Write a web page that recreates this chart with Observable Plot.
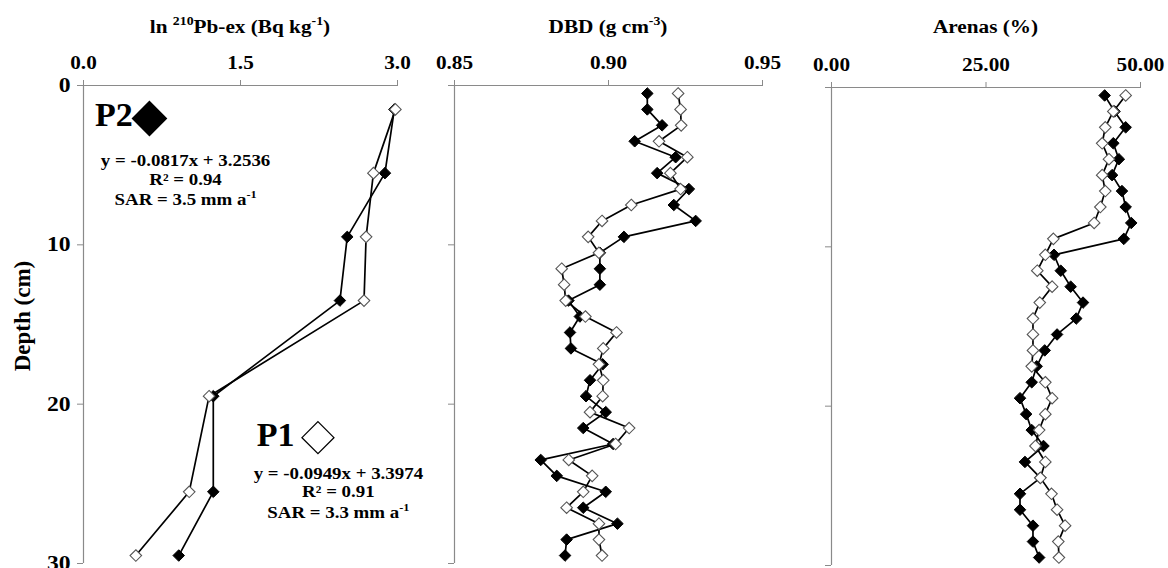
<!DOCTYPE html>
<html><head><meta charset="utf-8">
<script src="https://cdn.jsdelivr.net/npm/d3@7"></script>
<script src="https://cdn.jsdelivr.net/npm/@observablehq/plot@0.6"></script>
<style>
body{margin:0;background:#fff;}
#wrap{position:relative;width:1168px;height:568px;overflow:hidden;background:#fff;}
#wrap svg{position:absolute;top:0;overflow:visible;}
</style></head><body><div id="wrap"></div>
<script>
// ---- data ----
const depthPb = [1.5, 5.5, 9.5, 13.5, 19.5, 25.5, 29.5];
const pbP1 = [2.98, 2.77, 2.70, 2.68, 1.20, 1.01, 0.50];
const pbP2 = [2.97, 2.88, 2.52, 2.45, 1.24, 1.24, 0.91];

const depthFine = [0.5,1.5,2.5,3.5,4.5,5.5,6.5,7.5,8.5,9.5,10.5,11.5,12.5,13.5,14.5,15.5,16.5,17.5,18.5,19.5,20.5,21.5,22.5,23.5,24.5,25.5,26.5,27.5,28.5,29.5];
const dbdP1 = [0.9226,0.9234,0.9236,0.9164,0.9256,0.9201,0.9234,0.9074,0.8979,0.8934,0.8969,0.8848,0.8856,0.8861,0.8925,0.9026,0.8983,0.8969,0.8983,0.8981,0.8940,0.9067,0.9023,0.8871,0.8947,0.8918,0.8864,0.8969,0.8969,0.8979];
const dbdP2 = [0.9126,0.9126,0.9174,0.9085,0.9218,0.9158,0.9261,0.9212,0.9283,0.9050,0.8972,0.8972,0.8972,0.8870,0.8907,0.8875,0.8878,0.8981,0.8940,0.8927,0.8991,0.8918,0.9015,0.8780,0.8832,0.8991,0.8918,0.9029,0.8864,0.8859];
const arP1 = [47.6,45.6,44.3,43.8,44.9,43.8,44.3,43.5,42.5,35.9,34.6,33.3,35.7,33.7,32.6,32.6,32.6,32.4,34.6,35.7,34.6,33.6,33.0,34.6,33.8,35.6,36.5,37.8,36.7,36.8];
const arP2 = [44.2,45.8,47.6,45.6,46.5,45.4,47.0,47.6,48.5,47.3,36.0,37.1,38.7,40.7,39.6,36.5,34.5,33.2,32.4,30.5,31.5,32.4,34.3,31.3,33.8,30.5,30.5,32.6,32.6,33.6];

const pbTicks = [0, 1.5, 3.0];
const dbdTicks = [0.85, 0.90, 0.95];
const arTicks = [0, 25, 50];
const depthTicks = [0, 10, 20, 30];

const titlePb = [["ln ", false], ["210", true], ["Pb-ex (Bq kg", false], ["-1", true], [")", false]];
const titleDbd = [["DBD (g cm", false], ["-3", true], [")", false]];
const titleAr = [["Arenas (%)", false]];
const yTitle = "Depth (cm)";

const p2Eq = [[["y = -0.0817x + 3.2536", false]], [["R² = 0.94", false]], [["SAR = 3.5 mm a", false], ["-1", true]]];
const p1Eq = [[["y = -0.0949x + 3.3974", false]], [["R² = 0.91", false]], [["SAR = 3.3 mm a", false], ["-1", true]]];
const p2EqPos = {x: 0.98, depths: [5.08, 6.28, 7.53]};
const p1EqPos = {x: 2.44, depths: [24.73, 25.86, 27.18]};
const profileLabels = [{text: "P2", x: 0.115, depth: 2.57}, {text: "P1", x: 1.66, depth: 22.66}];
const profileMarkers = [{x: 0.63, depth: 2.07, fill: "black", r: 15.3}, {x: 2.24, depth: 22.1, fill: "white", r: 14.4}];

// ---- helpers ----
const FONT = "'Liberation Serif', 'Times New Roman', serif";
const GRAY = "#8a8a8a";
const STRETCH = 1.18;
const wrap = document.getElementById("wrap");

function rows(xs, ys) { return xs.map((v, i) => ({v, d: ys[i]})); }

function richText(svg, segs, px, py, size, anchor, stretch = true) {
  const t = d3.select(svg).append("text")
    .attr("x", px).attr("y", py)
    .attr("text-anchor", anchor)
    .attr("font-size", size).attr("font-weight", "bold")
    .attr("font-family", FONT).attr("fill", "black")
    .attr("class", stretch ? "stretch" : "");
  let sup = false;
  segs.forEach(([s, isSup]) => {
    const ts = t.append("tspan").text(s);
    if (isSup) ts.attr("font-size", size * 0.65);
    if (isSup && !sup) ts.attr("dy", -0.42 * size);
    if (!isSup && sup) ts.attr("dy", 0.42 * size);
    sup = isSup;
  });
  return t;
}

function panel(cfg) {
  const {left, width, mL, mR, mT, mB, domain, ticks, fmt, p1, p2, depths, showY, title, extra} = cfg;
  const d1 = rows(p1, depths), d2 = rows(p2, depths);
  const plot = Plot.plot({
    width, height: 568,
    marginLeft: mL, marginRight: mR, marginTop: mT, marginBottom: mB,
    style: {background: "transparent", fontFamily: FONT, fontWeight: "bold", fontSize: "18px", color: "black", overflow: "visible"},
    x: {domain, axis: "top", ticks, tickFormat: fmt, tickSize: 6, tickPadding: 11, label: null},
    y: {domain: [0, 30], reverse: true, axis: "left", ticks: depthTicks, tickSize: 6, tickPadding: 7,
        tickFormat: showY ? (d => String(d)) : (() => ""), label: null},
    r: {type: "identity"},
    marks: [
      Plot.ruleY([0], {stroke: GRAY, strokeWidth: 1.2}),
      Plot.ruleX([domain[0]], {stroke: GRAY, strokeWidth: 1.2}),
      Plot.line(d2, {x: "v", y: "d", stroke: "black", strokeWidth: 1.7}),
      Plot.dot(d2, {x: "v", y: "d", symbol: "diamond2", r: 5.2, fill: "black", stroke: "black", strokeWidth: 1}),
      Plot.line(d1, {x: "v", y: "d", stroke: "black", strokeWidth: 1.7}),
      Plot.dot(d1, {x: "v", y: "d", symbol: "diamond2", r: 5.2, fill: "white", stroke: "#555", strokeWidth: 1.1}),
      ...(extra || [])
    ]
  });
  plot.style.left = left + "px";
  wrap.appendChild(plot);
  // gray tick lines
  plot.querySelectorAll('g[aria-label^="x-axis"] line, g[aria-label^="y-axis"] line, g[aria-label^="x-axis"] path, g[aria-label^="y-axis"] path')
    .forEach(el => { el.setAttribute("stroke", GRAY); el.style.stroke = GRAY; });
  plot.querySelectorAll('g[aria-label^="x-axis"] text, g[aria-label^="y-axis"] text').forEach(el => el.classList.add("stretch"));
  const xs = plot.scale("x"), ys = plot.scale("y");
  const mid = (domain[0] + domain[1]) / 2;
  richText(plot, title, xs.apply(mid), 33, 18, "middle");
  return {plot, xs, ys};
}

// ---- panels ----
const pA = panel({left: 0, width: 420, mL: 83, mR: 23, mT: 85, mB: 5, domain: [0, 3], ticks: pbTicks,
  fmt: d => d.toFixed(1), p1: pbP1, p2: pbP2, depths: depthPb, showY: true, title: titlePb,
  extra: [Plot.dot(profileMarkers, {x: "x", y: "depth", r: "r", symbol: "diamond2", fill: "fill", stroke: "black", strokeWidth: 1.3})]});
const pB = panel({left: 420, width: 380, mL: 34, mR: 38, mT: 85, mB: 5, domain: [0.85, 0.95], ticks: dbdTicks,
  fmt: d => d.toFixed(2), p1: dbdP1, p2: dbdP2, depths: depthFine, showY: false, title: titleDbd});
const pC = panel({left: 800, width: 368, mL: 31, mR: 28, mT: 87, mB: 3, domain: [0, 50], ticks: arTicks,
  fmt: d => d.toFixed(2), p1: arP1, p2: arP2, depths: depthFine, showY: false, title: titleAr});

// annotations in panel 1
{
  const {plot, xs, ys} = pA;
  profileLabels.forEach(l => richText(plot, [[l.text, false]], xs.apply(l.x), ys.apply(l.depth), 34, "start", false));
  p2Eq.forEach((segs, i) => richText(plot, segs, xs.apply(p2EqPos.x), ys.apply(p2EqPos.depths[i]), 16, "middle"));
  p1Eq.forEach((segs, i) => richText(plot, segs, xs.apply(p1EqPos.x), ys.apply(p1EqPos.depths[i]), 16, "middle"));
  d3.select(plot).append("text")
    .attr("transform", `translate(30,${(ys.apply(0) + ys.apply(30)) / 2 - 8}) rotate(-90)`)
    .attr("text-anchor", "middle").attr("font-size", 23).attr("font-weight", "bold")
    .attr("font-family", FONT).attr("fill", "black").text(yTitle);
  plot.querySelectorAll('g[aria-label^="y-axis"] text').forEach(el => el.setAttribute("font-size", 20));
}

// horizontal stretch to match the reference's wide lettering
document.querySelectorAll("#wrap text.stretch").forEach(t => {
  const w = t.getComputedTextLength();
  if (w > 0) { t.setAttribute("textLength", (w * STRETCH).toFixed(1)); t.setAttribute("lengthAdjust", "spacingAndGlyphs"); }
});
</script></body></html>
